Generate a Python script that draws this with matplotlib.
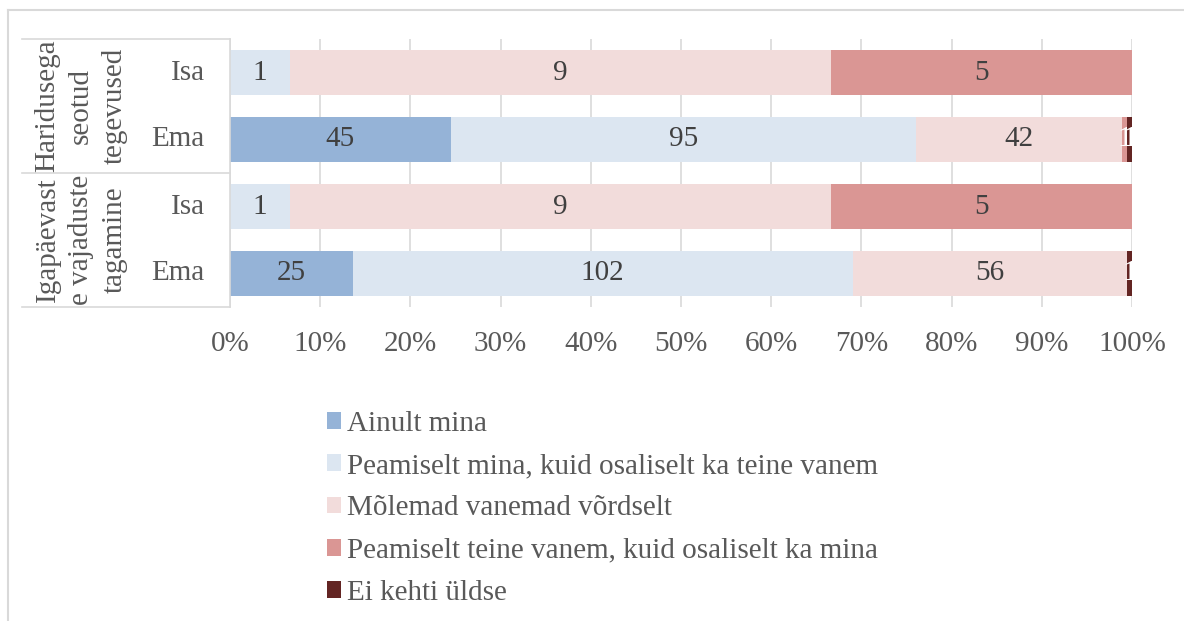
import numpy as np
import matplotlib.pyplot as plt
from matplotlib.lines import Line2D

plt.rcParams['font.family'] = ['Liberation Serif', 'DejaVu Serif']

# Data (rows from bottom to top)
groups = ['Igapäevast\ne vajaduste\ntagamine', 'Haridusega\nseotud\ntegevused']
rows = ['Ema', 'Isa', 'Ema', 'Isa']
series = ['Ainult mina',
          'Peamiselt mina, kuid osaliselt ka teine vanem',
          'Mõlemad vanemad võrdselt',
          'Peamiselt teine vanem, kuid osaliselt ka mina',
          'Ei kehti üldse']
ainult_mina = [25, 0, 45, 0]
peamiselt_mina = [102, 1, 95, 1]
molemad = [56, 9, 42, 9]
peamiselt_teine = [0, 5, 1, 5]
ei_kehti = [1, 0, 1, 0]
colors = ['#95b3d7', '#dce6f1', '#f2dcdb', '#da9694', '#632523']

counts = np.array([ainult_mina, peamiselt_mina, molemad, peamiselt_teine, ei_kehti], dtype=float)
totals = counts.sum(axis=0)
shares = counts / totals

fig = plt.figure(figsize=(11.84, 6.21), dpi=100)
ax = fig.add_axes([230/1184, 1-307/621, 902/1184, 268/621])

grey = '#d9d9d9'
txt = '#595959'
fs = 21
y = np.arange(len(rows))
left = np.zeros(len(rows))
handles = []
for i, name in enumerate(series):
    bars = ax.barh(y, shares[i], left=left, height=0.67, color=colors[i], label=name, zorder=2)
    handles.append(bars)
    for j in range(len(rows)):
        if counts[i, j] > 0:
            c = '#ffffff' if shares[i, j] < 0.02 else '#404040'
            ax.text(left[j] + shares[i, j]/2, y[j], '%d' % counts[i, j], ha='center', va='center',
                    fontsize=fs, color=c, zorder=3)
    left += shares[i]

ax.set_xlim(0, 1)
ax.set_ylim(-0.5, 3.5)
ax.set_xticks(np.arange(0, 1.01, 0.1))
ax.set_xticklabels(['%d%%' % v for v in range(0, 101, 10)])
ax.tick_params(axis='x', length=0, pad=17, labelsize=fs, labelcolor=txt)
ax.set_yticks([])
ax.grid(axis='x', color=grey, linewidth=1.2, zorder=0)
for s in ['top', 'right', 'bottom']:
    ax.spines[s].set_visible(False)
ax.spines['left'].set_color(grey)
ax.spines['left'].set_linewidth(1.2)

# hierarchical category labels
x0 = (22 - 230) / 902
for yy in [0, 0.5, 1]:
    ax.plot([x0, 0], [yy, yy], color=grey, lw=1.2, transform=ax.transAxes, clip_on=False)
for j, r in enumerate(rows):
    ax.text(-0.028, y[j], r, ha='right', va='center', fontsize=fs, color=txt)
for k, g in enumerate(groups):
    ax.text(-0.165, 0.25 + 0.5*k, g, rotation=90, ha='center', va='center', ma='center',
            fontsize=fs, color=txt, linespacing=1.38, transform=ax.transAxes)

# outer frame
fig.add_artist(Line2D([8/1184, 1], [1-10/621, 1-10/621], color=grey, lw=1.5))
fig.add_artist(Line2D([8/1184, 8/1184], [0, 1-10/621], color=grey, lw=1.5))

leg = fig.legend(handles=handles, loc='upper left', bbox_to_anchor=(315/1184, 1-399/621),
                 frameon=False, fontsize=fs, handlelength=0.5, handleheight=0.5,
                 handletextpad=0.2, labelspacing=0.56, borderaxespad=0)
for t in leg.get_texts():
    t.set_color(txt)

fig.savefig('out.png', dpi=100)
